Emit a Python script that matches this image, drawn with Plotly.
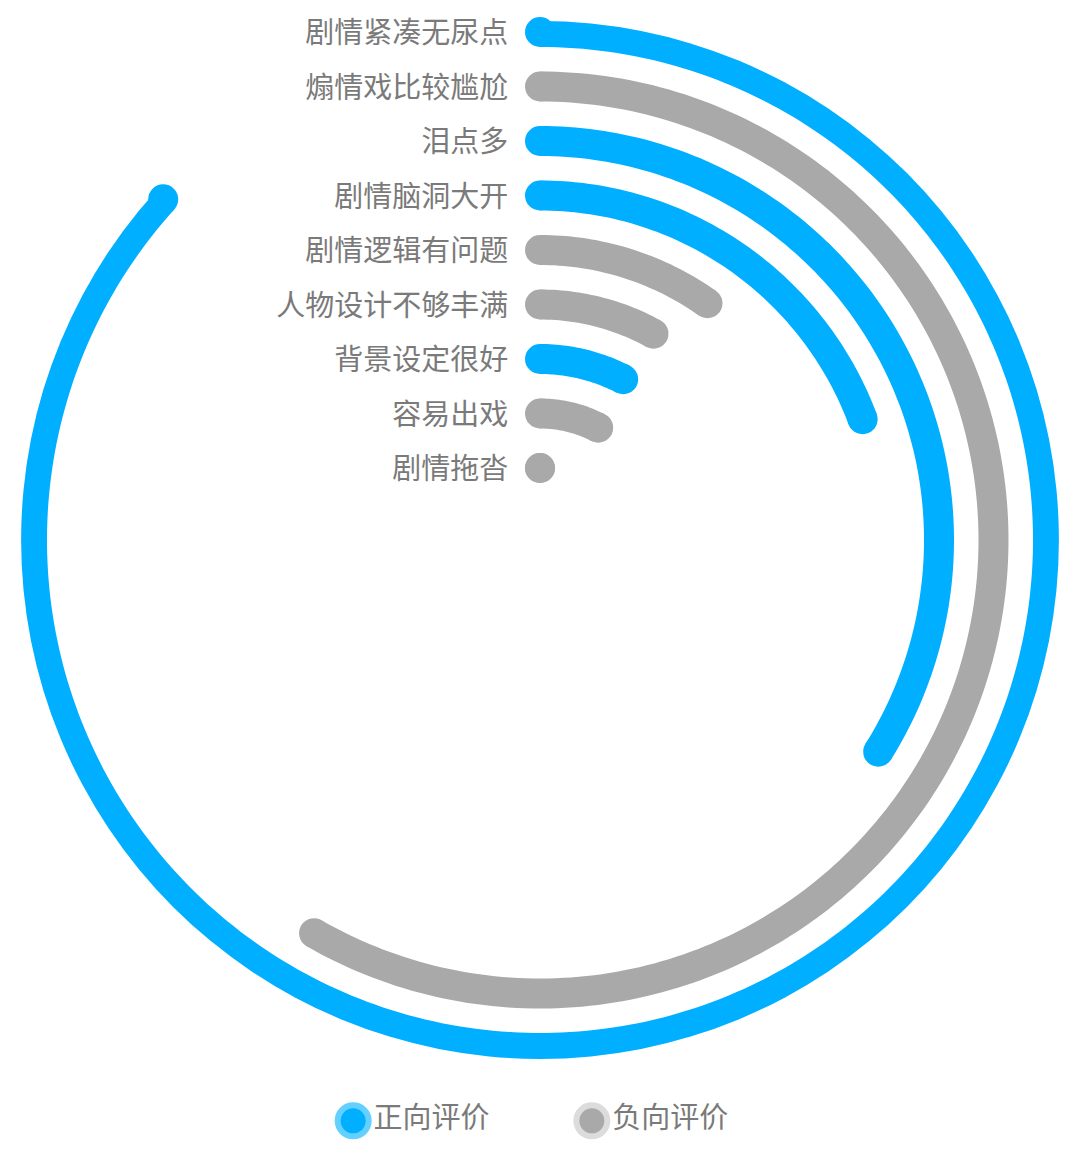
import numpy as np
import plotly.graph_objects as go

# 评价分类（从外圈到内圈）
labels = ["剧情紧凑无尿点", "煽情戏比较尴尬", "泪点多", "剧情脑洞大开", "剧情逻辑有问题",
          "人物设计不够丰满", "背景设定很好", "容易出戏", "剧情拖沓"]
# 占比 (%)，一圈 = 100
values = [86.7, 58.3, 33.9, 19.3, 9.8, 8.0, 7.6, 7.6, 0.0]
kinds = ["正向评价", "负向评价", "正向评价", "正向评价", "负向评价",
         "负向评价", "正向评价", "负向评价", "负向评价"]

colors = {"正向评价": "#00AFFF", "负向评价": "#A9A9A9"}
halo = {"正向评价": "#63D0FF", "负向评价": "#DCDCDC"}
TXT = "#7a7a7a"
FONT = "Noto Sans CJK SC"
W = 30  # 圆环粗细 px

fig = go.Figure()
n = len(labels)
for i, (lab, v, k) in enumerate(zip(labels, values, kinds)):
    ring = n - 1 - i
    end = v * 3.6
    th = np.linspace(0, end, max(2, int(end) + 2))
    fig.add_trace(go.Scatterpolar(
        r=[ring] * len(th), theta=th, mode="lines",
        line=dict(color=colors[k], width=W), hoverinfo="skip", showlegend=False))
    # 圆角端点
    fig.add_trace(go.Scatterpolar(
        r=[ring, ring], theta=[0, end], mode="markers",
        marker=dict(color=colors[k], size=W, line=dict(width=0)),
        hoverinfo="skip", showlegend=False))

# 标签（略往下挪一点，和圆环对齐）
fig.add_trace(go.Scatterpolar(
    r=[n - 1 - i - 0.075 for i in range(n)], theta=[0] * n, mode="markers+text",
    text=labels, textposition="middle left",
    textfont=dict(family=FONT, size=29, color=TXT),
    marker=dict(size=49, color="rgba(0,0,0,0)"),
    hoverinfo="skip", showlegend=False, cliponaxis=False))

# 自制图例
legend_names = ["正向评价", "负向评价"]
legend_x = [0.3196, 0.5406]
for nm, lx in zip(legend_names, legend_x):
    fig.add_trace(go.Scatter(
        x=[lx], y=[0.0365], mode="markers+text", text=[nm], textposition="middle right",
        textfont=dict(family=FONT, size=29, color=TXT),
        marker=dict(size=31, color=colors[nm], line=dict(color=halo[nm], width=6)),
        hoverinfo="skip", showlegend=False, cliponaxis=False))

fig.update_layout(
    width=1080, height=1155,
    margin=dict(l=0, r=0, t=0, b=0),
    paper_bgcolor="white", plot_bgcolor="rgba(0,0,0,0)",
    hovermode=False,
    polar=dict(
        domain=dict(x=[0.01213, 0.97306], y=[0.09013, 0.98866]),
        bgcolor="rgba(0,0,0,0)",
        angularaxis=dict(rotation=90, direction="clockwise", visible=False),
        radialaxis=dict(range=[-1.321, 8.2], visible=False),
    ),
    xaxis=dict(range=[0, 1], domain=[0, 1], visible=False, fixedrange=True),
    yaxis=dict(range=[0, 1], domain=[0, 1], visible=False, fixedrange=True),
)

fig.write_html("out.html")
